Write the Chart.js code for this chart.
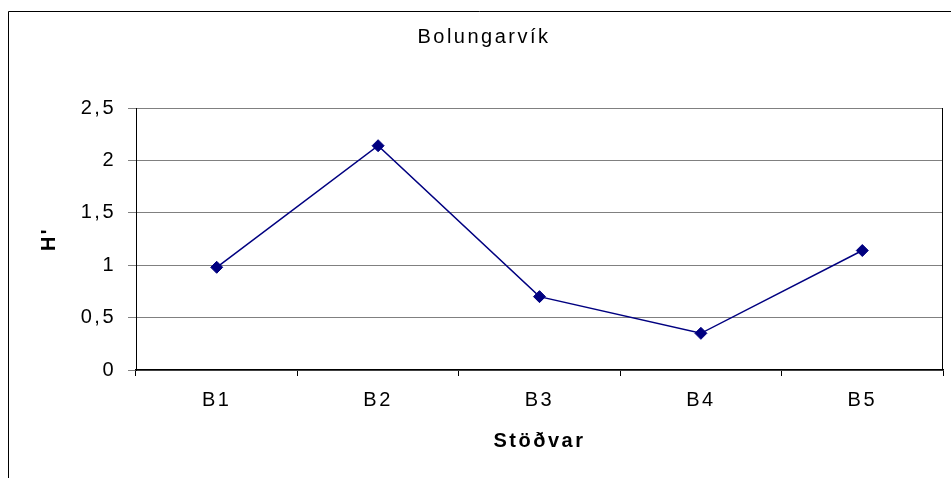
<!DOCTYPE html>
<html>
<head>
<meta charset="utf-8">
<script src="https://cdn.jsdelivr.net/npm/chart.js@4"></script>
<style>
html,body{margin:0;padding:0;background:#fff;}
#wrap{width:951px;height:478px;position:relative;}
</style>
</head>
<body>
<div id="wrap"><canvas id="c" width="951" height="478"></canvas></div>
<script>
const chartTitle = 'Bolungarvík';
const categories = ['B1', 'B2', 'B3', 'B4', 'B5'];
const hValues = [0.98, 2.14, 0.70, 0.35, 1.14];
const yTickLabels = ['0', '0,5', '1', '1,5', '2', '2,5'];
const xAxisTitle = 'Stöðvar';
const yAxisTitle = "H'";

const FONT = "'Liberation Sans', Arial, sans-serif";

const framePlugin = {
  id: 'frame',
  beforeDraw(chart) {
    const ctx = chart.ctx;
    ctx.save();
    ctx.fillStyle = '#fff';
    ctx.fillRect(0, 0, chart.width, chart.height);
    ctx.strokeStyle = '#000';
    ctx.lineWidth = 1;
    ctx.beginPath();
    ctx.moveTo(8.5, chart.height);
    ctx.lineTo(8.5, 11.5);
    ctx.lineTo(chart.width, 11.5);
    ctx.stroke();
    ctx.letterSpacing = '2.5px';
    ctx.fillStyle = '#000';
    ctx.font = '20px ' + FONT;
    ctx.textAlign = 'center';
    ctx.textBaseline = 'alphabetic';
    ctx.fillText(chartTitle, 484, 43);
    ctx.restore();
    ctx.letterSpacing = '2.5px';
  },
  afterDatasetsDraw(chart) {
    const ctx = chart.ctx;
    const a = chart.chartArea;
    ctx.save();
    ctx.strokeStyle = '#000';
    ctx.lineWidth = 1;
    ctx.beginPath();
    ctx.moveTo(Math.round(a.right) - 0.5, a.top);
    ctx.lineTo(Math.round(a.right) - 0.5, a.bottom);
    ctx.stroke();
    ctx.restore();
  }
};

new Chart(document.getElementById('c'), {
  type: 'line',
  data: {
    labels: categories,
    datasets: [{
      data: hValues,
      borderColor: '#000080',
      backgroundColor: '#000080',
      borderWidth: 1.5,
      pointStyle: 'rectRot',
      pointRadius: 6,
      pointBorderWidth: 1,
      pointBackgroundColor: '#000080',
      pointBorderColor: '#000080',
      tension: 0,
      fill: false
    }]
  },
  options: {
    responsive: false,
    animation: false,
    devicePixelRatio: 1,
    layout: { padding: { top: 108, right: 8, bottom: 0, left: 0 } },
    plugins: {
      legend: { display: false },
      title: { display: false },
      tooltip: { enabled: false }
    },
    scales: {
      x: {
        type: 'category',
        offset: true,
        afterFit(scale) { scale.height = 108; },
        grid: {
          offset: true,
          drawOnChartArea: false,
          drawTicks: true,
          tickLength: 6,
          color: '#000',
          lineWidth: 1
        },
        border: { display: true, color: '#000', width: 1.5 },
        ticks: {
          color: '#000',
          font: { family: FONT, size: 20 },
          padding: 12,
          maxRotation: 0,
          autoSkip: false
        },
        title: {
          display: true,
          text: xAxisTitle,
          color: '#000',
          font: { family: FONT, size: 20, weight: 'bold' },
          padding: { top: 0, bottom: 25 }
        }
      },
      y: {
        min: 0,
        max: 2.5,
        afterFit(scale) { scale.width = 136; },
        ticks: {
          stepSize: 0.5,
          color: '#000',
          font: { family: FONT, size: 20 },
          padding: 12,
          callback(value, index) { return yTickLabels[index]; }
        },
        grid: {
          color: '#808080',
          lineWidth: 1,
          drawTicks: true,
          tickLength: 8,
          tickColor: '#808080'
        },
        border: { display: true, color: '#000', width: 1 },
        title: {
          display: true,
          text: yAxisTitle,
          color: '#000',
          font: { family: FONT, size: 20, weight: 'bold' },
          padding: { top: 37, bottom: 0 }
        }
      }
    }
  },
  plugins: [framePlugin]
});
</script>
</body>
</html>
